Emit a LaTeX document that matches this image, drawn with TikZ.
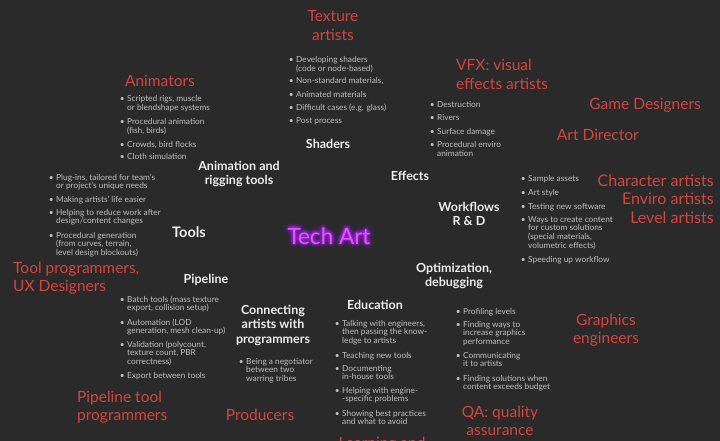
\documentclass[tikz,border=0pt]{standalone}
\usepackage{fontspec}
\setmainfont{Lato}
\definecolor{bg}{HTML}{2A2A2A}
\definecolor{rolered}{HTML}{D4453E}
\definecolor{topicwhite}{HTML}{EEEEEE}
\definecolor{notegray}{HTML}{C0C0C0}
\definecolor{techpink}{HTML}{E655F0}
\definecolor{techglow}{HTML}{A020F0}
% hanging bullet in front of a list item
\newcommand\itm{\llap{\textbullet\hspace{2.6pt}}}
\begin{document}
\begin{tikzpicture}[x=1pt,y=-1pt,
  role/.style={text=rolered, font=\fontsize{15.5}{18.5}\selectfont, align=center, inner sep=0pt, anchor=base},
  topic/.style={text=topicwhite, font=\bfseries\fontsize{12.5}{14.5}\selectfont, align=center, inner sep=0pt, anchor=base},
  note/.style={text=notegray, font=\fontsize{8.3}{8.9}\selectfont, align=left, inner sep=0pt, anchor=base west},
  % the base anchor of a multi-line node sits on its last line:
  % these shifts put the first line on the given point instead
  two/.style={yshift=-8.9pt},
  three/.style={yshift=-17.8pt},
  four/.style={yshift=-26.7pt},
  rtwo/.style={yshift=-18.5pt},
  ttwo/.style={yshift=-14.5pt},
  tthree/.style={yshift=-29pt},
  tech/.style={font=\fontsize{22.5}{24}\selectfont, inner sep=0pt, anchor=base}]
\fill[bg] (0,0) rectangle (720,441);
\useasboundingbox (0,0) rectangle (720,441);
\clip (0,0) rectangle (720,441);

% centre: glowing title
\foreach \r/\o in {4.5/0.06,3/0.1,1.5/0.16}{
  \foreach \a in {0,30,...,330}{
    \node[tech, text=techglow, text opacity=\o] (glow-\r-\a) at ({329+\r*cos(\a)},{244+\r*sin(\a)}) {Tech Art};
  }
}
\node[tech, text=techpink] (tech) at (329,244) {Tech Art};

% shaders
\node[role, rtwo] (texture) at (333,22) {Texture\\artists};
\node[note, two] (sh1) at (296,63) {\itm Developing shaders\\(code or node-based)};
\node[note] (sh2) at (296,84) {\itm Non-standard materials,};
\node[note] (sh3) at (296,98) {\itm Animated materials};
\node[note] (sh4) at (296,111) {\itm Difficult cases (e.g. glass)};
\node[note] (sh5) at (296,124) {\itm Post process};
\node[topic] (shaders) at (328,149) {Shaders};

% animation
\node[role] (animators) at (160,87) {Animators};
\node[note, two] (an1) at (127,102) {\itm Scripted rigs, muscle\\or blendshape systems};
\node[note, two] (an2) at (127,125) {\itm Procedural animation\\(fish, birds)};
\node[note] (an3) at (127,147) {\itm Crowds, bird flocks};
\node[note] (an4) at (127,160) {\itm Cloth simulation};
\node[topic, ttwo] (anim) at (239,170) {Animation and\\rigging tools};

% effects
\node[role, rtwo, align=left, anchor=base west] (vfx) at (456,71) {VFX: visual\\effects artists};
\node[note] (fx1) at (437,108) {\itm Destruction};
\node[note] (fx2) at (437,121) {\itm Rivers};
\node[note] (fx3) at (437,135) {\itm Surface damage};
\node[note, two] (fx4) at (437,148) {\itm Procedural enviro\\animation};
\node[topic] (effects) at (410,180) {Effects};

% right-hand roles
\node[role, anchor=base east] (game) at (701,110) {Game Designers};
\node[role, anchor=base east] (artdir) at (639,140) {Art Director};
\node[role, anchor=base east, font=\fontsize{16}{18}\selectfont] (charart) at (714,186) {Character artists};
\node[role, anchor=base east, font=\fontsize{16}{18}\selectfont] (envart) at (714,204) {Enviro artists};
\node[role, anchor=base east, font=\fontsize{16}{18}\selectfont] (levart) at (714,223) {Level artists};

% workflows
\node[topic, ttwo] (workflows) at (469,211) {Workflows\\R \& D};
\node[note] (wf1) at (528,182) {\itm Sample assets};
\node[note] (wf2) at (528,195) {\itm Art style};
\node[note] (wf3) at (528,209) {\itm Testing new software};
\node[note, four] (wf4) at (528,222) {\itm Ways to create content\\for custom solutions\\(special materials,\\volumetric effects)};
\node[note] (wf5) at (528,262) {\itm Speeding up workflow};

% tools
\node[note, two] (tl1) at (56,180) {\itm Plug-ins, tailored for team's\\or project's unique needs};
\node[note] (tl2) at (56,202) {\itm Making artists' life easier};
\node[note, two] (tl3) at (56,215) {\itm Helping to reduce work after\\design/content changes};
\node[note, three] (tl4) at (56,238) {\itm Procedural generation\\(from curves, terrain,\\level design blockouts)};
\node[topic, font=\bfseries\fontsize{14.5}{16}\selectfont] (tools) at (189,237) {Tools};
\node[role, rtwo, align=left, anchor=base west] (toolprog) at (13,273) {Tool programmers,\\UX Designers};

% optimization
\node[topic, ttwo] (optim) at (454,272) {Optimization,\\debugging};
\node[note] (op1) at (463,314) {\itm Profiling levels};
\node[note, three] (op2) at (463,327) {\itm Finding ways to\\increase graphics\\performance};
\node[note, two] (op3) at (463,358) {\itm Communicating\\it to artists};
\node[note, two] (op4) at (463,381) {\itm Finding solutions when\\content exceeds budget};
\node[role, rtwo] (gfx) at (606,325) {Graphics\\engineers};
\node[role, rtwo] (qa) at (500,417) {QA: quality\\assurance};

% pipeline
\node[topic] (pipeline) at (206,283) {Pipeline};
\node[note, two] (pl1) at (127,302) {\itm Batch tools (mass texture\\export, collision setup)};
\node[note, two] (pl2) at (127,325) {\itm Automation (LOD\\generation, mesh clean-up)};
\node[note, three] (pl3) at (127,347) {\itm Validation (polycount,\\texture count, PBR\\correctness)};
\node[note] (pl4) at (127,378) {\itm Export between tools};
\node[role, rtwo, align=left, anchor=base west] (pipeprog) at (77,402) {Pipeline tool\\programmers};

% connecting
\node[topic, tthree] (connect) at (273,314) {Connecting\\artists with\\programmers};
\node[note, three] (cn1) at (246,364) {\itm Being a negotiator\\between two\\warring tribes};
\node[role] (producers) at (260,420) {Producers};

% education
\node[topic] (education) at (375,309) {Education};
\node[note, three] (ed1) at (342,326) {\itm Talking with engineers,\\then passing the know-\\ledge to artists};
\node[note] (ed2) at (342,358) {\itm Teaching new tools};
\node[note, two] (ed3) at (342,371) {\itm Documenting\\in-house tools};
\node[note, two] (ed4) at (342,393) {\itm Helping with engine-\\-specific problems};
\node[note, two] (ed5) at (342,416) {\itm Showing best practices\\and what to avoid};
\node[role] (learning) at (382,448) {Learning and};
\end{tikzpicture}
\end{document}
